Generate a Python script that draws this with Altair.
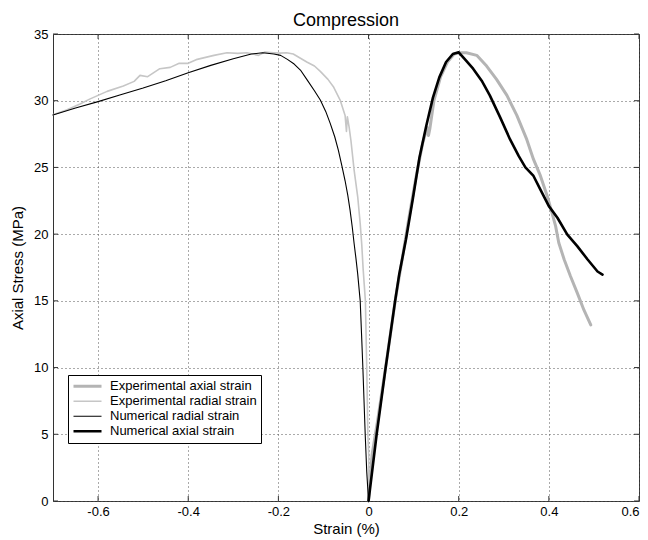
import altair as alt
import pandas as pd

# ---------------- data ----------------
series_names = [
    "Experimental axial strain",
    "Experimental radial strain",
    "Numerical radial strain",
    "Numerical axial strain",
]
series_colors = ["#b4b4b4", "#c6c6c6", "#000000", "#000000"]
series_widths = [3.0, 1.6, 1.1, 2.6]

x_ticks = [-0.6, -0.4, -0.2, 0, 0.2, 0.4, 0.6]
y_ticks = [0, 5, 10, 15, 20, 25, 30, 35]

exp_axial_x = [0.0, 0.003, 0.008, 0.02, 0.04, 0.06, 0.075, 0.09, 0.105, 0.12, 0.13,
               0.133, 0.136, 0.145, 0.16, 0.175, 0.19, 0.202, 0.217, 0.24, 0.262,
               0.284, 0.307, 0.329, 0.351, 0.366, 0.381, 0.396, 0.407, 0.415, 0.422,
               0.434, 0.448, 0.463, 0.478, 0.493]
exp_axial_y = [0.0, 1.5, 3.5, 6.0, 10.5, 15.2, 18.2, 21.3, 24.2, 26.8, 28.0,
               27.4, 27.9, 30.0, 31.8, 32.9, 33.5, 33.6, 33.6, 33.4, 32.6,
               31.6, 30.4, 28.9, 27.1, 25.6, 24.4, 22.9, 21.6, 20.6, 19.35,
               18.1, 16.84, 15.6, 14.3, 13.2]

exp_radial_x = [-0.700, -0.67, -0.64, -0.62, -0.60, -0.58, -0.544, -0.52, -0.507, -0.49,
                -0.463, -0.44, -0.42, -0.40, -0.38, -0.343, -0.314, -0.29, -0.27, -0.244,
                -0.23, -0.211, -0.196, -0.182, -0.167, -0.152, -0.137, -0.12, -0.107,
                -0.09, -0.078, -0.063, -0.052, -0.049, -0.047, -0.043, -0.039, -0.032,
                -0.024, -0.0185, -0.015, -0.012, -0.007, -0.004, -0.0015, 0.0005, 0.0]
exp_radial_y = [28.95, 29.3, 29.75, 30.1, 30.4, 30.7, 31.1, 31.45, 31.9, 31.8,
                32.4, 32.5, 32.8, 32.8, 33.1, 33.4, 33.6, 33.55, 33.6, 33.4,
                33.65, 33.6, 33.57, 33.6, 33.5, 33.2, 32.9, 32.6, 32.2,
                31.6, 31.05, 30.05, 28.9, 27.7, 28.8, 28.0, 27.0, 24.8,
                22.8, 20.8, 19.2, 17.4, 15.0, 10.0, 5.0, 3.4, 0.0]

num_radial_x = [-0.70, -0.65, -0.60, -0.55, -0.50, -0.45, -0.40, -0.35, -0.30, -0.26,
                -0.235, -0.21, -0.195, -0.18, -0.165, -0.15, -0.137, -0.12, -0.107,
                -0.095, -0.085, -0.075, -0.067, -0.059, -0.052, -0.046, -0.041, -0.036,
                -0.032, -0.028, -0.024, -0.0185, -0.0155, -0.0126, -0.010, -0.0074,
                -0.004, 0.0]
num_radial_y = [28.93, 29.45, 29.93, 30.45, 30.95, 31.5, 32.1, 32.65, 33.15, 33.5,
                33.6, 33.5, 33.4, 33.1, 32.75, 32.25, 31.6, 30.75, 30.05,
                29.2, 28.3, 27.3, 26.3, 25.1, 24.0, 22.9, 21.8, 20.5,
                19.3, 18.2, 17.0, 15.0, 12.5, 10.0, 7.5, 5.0,
                2.2, 0.0]

num_axial_x = [0.0, 0.018, 0.038, 0.059, 0.068, 0.083, 0.098, 0.113, 0.128, 0.143,
               0.157, 0.172, 0.187, 0.2, 0.213, 0.232, 0.251, 0.269, 0.292, 0.314,
               0.333, 0.348, 0.366, 0.381, 0.4, 0.419, 0.441, 0.463, 0.486, 0.508, 0.519]
num_axial_y = [0.0, 5.0, 10.0, 15.0, 16.97, 19.6, 22.6, 25.74, 28.1, 30.25,
               31.75, 32.9, 33.5, 33.63, 33.13, 32.4, 31.5, 30.4, 28.75, 27.1,
               25.86, 25.0, 24.36, 23.36, 22.1, 21.23, 19.97, 19.1, 18.1, 17.2, 16.97]

series_x = [exp_axial_x, exp_radial_x, num_radial_x, num_axial_x]
series_y = [exp_axial_y, exp_radial_y, num_radial_y, num_axial_y]

rows = []
for name, xs, ys in zip(series_names, series_x, series_y):
    for i, (xv, yv) in enumerate(zip(xs, ys)):
        rows.append({"series": name, "strain": xv, "stress": yv, "i": i})
df = pd.DataFrame(rows)

FONT = "Liberation Sans"
AXIS_COLOR = "#333333"

xscale = alt.Scale(domain=[-0.7, 0.6], nice=False, zero=False)
yscale = alt.Scale(domain=[0, 35], nice=False, zero=False)

label_expr = "datum.value < 0 ? '-' + format(-datum.value, '.1~f') : format(datum.value, '.1~f')"

legend = alt.Legend(
    title=None, orient="none", legendX=15, legendY=341,
    fillColor="white", strokeColor="#000000", padding=4,
    symbolType="stroke", symbolSize=784,
    labelFont=FONT, labelFontSize=13, labelColor="#000000", labelOffset=7,
    clipHeight=14.5, rowPadding=0, cornerRadius=0,
)

color = alt.Color("series:N", scale=alt.Scale(domain=series_names, range=series_colors), legend=legend)
width = alt.StrokeWidth("series:N", scale=alt.Scale(type="ordinal", domain=series_names, range=series_widths), legend=legend)

x_enc = alt.X("strain:Q", scale=xscale,
              axis=alt.Axis(values=x_ticks, title="Strain (%)", labelExpr=label_expr,
                            ticks=False, domain=False, grid=True, labelPadding=4,
                            titlePadding=3))
y_enc = alt.Y("stress:Q", scale=yscale,
              axis=alt.Axis(values=y_ticks, title="Axial Stress (MPa)", ticks=False,
                            domain=False, grid=True, labelPadding=5, titlePadding=8))

layers = []
for name in series_names:
    layers.append(
        alt.Chart(df).transform_filter(alt.datum.series == name)
        .mark_line(strokeJoin="round", strokeCap="round")
        .encode(x=x_enc, y=y_enc, color=color, strokeWidth=width, order="i:Q")
    )

xt = pd.DataFrame({"v": x_ticks})
yt = pd.DataFrame({"v": y_ticks})
tick_style = dict(color=AXIS_COLOR, strokeWidth=1)
ticks = [
    alt.Chart(xt).mark_rule(**tick_style).encode(x=alt.X("v:Q", scale=xscale), y=alt.value(467), y2=alt.value(462)),
    alt.Chart(xt).mark_rule(**tick_style).encode(x=alt.X("v:Q", scale=xscale), y=alt.value(0), y2=alt.value(5)),
    alt.Chart(yt).mark_rule(**tick_style).encode(y=alt.Y("v:Q", scale=yscale), x=alt.value(0), x2=alt.value(5)),
    alt.Chart(yt).mark_rule(**tick_style).encode(y=alt.Y("v:Q", scale=yscale), x=alt.value(586), x2=alt.value(581)),
]

chart = alt.layer(*ticks, *layers).properties(
    width=586, height=467,
    title=alt.TitleParams("Compression", font=FONT, fontSize=18, fontWeight="normal",
                          color="#000000", offset=4, dy=6),
    padding={"left": 45, "top": 26, "right": 1, "bottom": 36},
    autosize=alt.AutoSizeParams(type="none"),
    background="white",
).configure_view(
    stroke=AXIS_COLOR, strokeWidth=1
).configure_axis(
    labelFont=FONT, labelFontSize=13, labelColor="#000000",
    titleFont=FONT, titleFontSize=15, titleFontWeight="normal", titleColor="#000000",
    gridColor="#555555", gridDash=[1, 3], gridWidth=1, gridOpacity=1,
)

chart.save("out.html", embed_options={"renderer": "svg", "actions": False})
